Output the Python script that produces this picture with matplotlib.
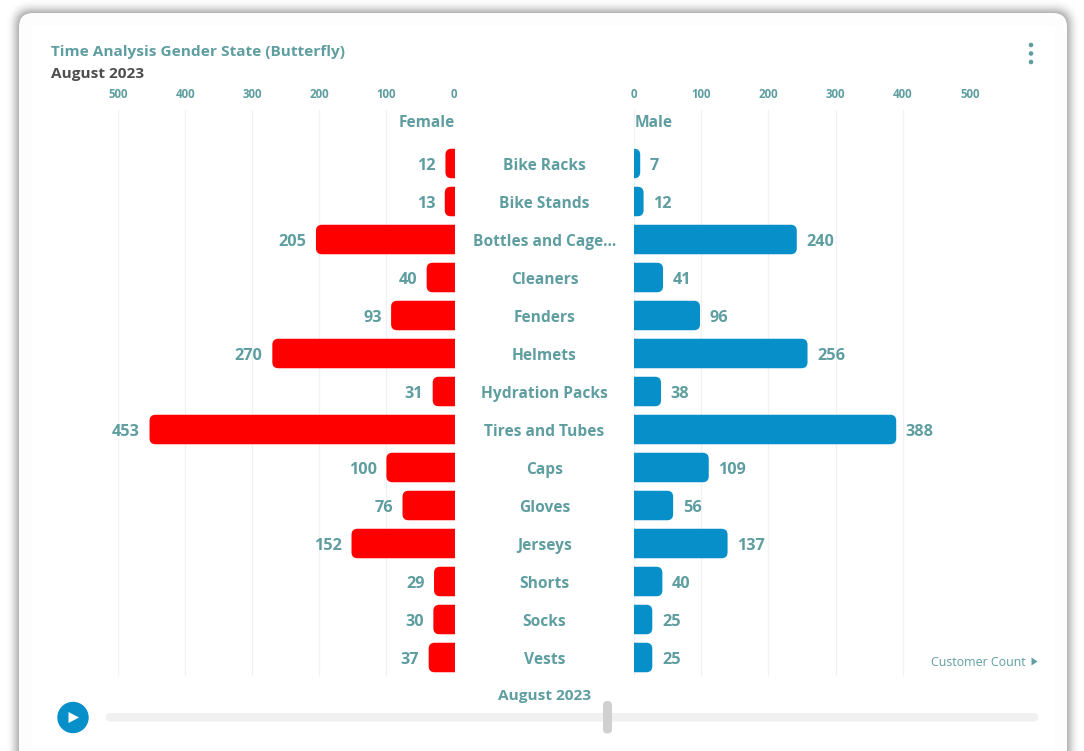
import matplotlib
matplotlib.use("Agg")
import matplotlib.pyplot as plt
from matplotlib.patches import FancyBboxPatch, PathPatch, Circle, Polygon, Rectangle
from matplotlib.path import Path

plt.rcParams['font.family'] = ['Open Sans', 'DejaVu Sans']

categories = ["Bike Racks", "Bike Stands", "Bottles and Cage...", "Cleaners", "Fenders", "Helmets",
              "Hydration Packs", "Tires and Tubes", "Caps", "Gloves", "Jerseys", "Shorts", "Socks", "Vests"]
female = [12, 13, 205, 40, 93, 270, 31, 453, 100, 76, 152, 29, 30, 37]
male = [7, 12, 240, 41, 96, 256, 38, 388, 109, 56, 137, 40, 25, 25]
ticks = [0, 100, 200, 300, 400, 500]
title = "Time Analysis Gender State (Butterfly)"
subtitle = "August 2023"

W, H = 1084, 751
TEAL = '#5F9EA0'
RED = '#FF0000'
BLUE = '#068FC9'
GRID = '#F1F1F1'

fig = plt.figure(figsize=(W / 100, H / 100), dpi=100, facecolor='white')

def px_axes(x0, y0, x1, y1, **kw):
    return fig.add_axes([x0 / W, 1 - y1 / H, (x1 - x0) / W, (y1 - y0) / H], **kw)

bg = px_axes(0, 0, W, H)
bg.set_xlim(0, W)
bg.set_ylim(H, 0)
bg.axis('off')

def card(x0, y0, x1, y1, r, **kw):
    bg.add_patch(FancyBboxPatch((x0 + r, y0 + r), x1 - x0 - 2 * r, y1 - y0 - 2 * r,
                                boxstyle=f"round,pad={r},rounding_size={r}", linewidth=0, **kw))

SHADOW = 14
for s in range(SHADOW, 0, -1):
    card(19 - s, 13 - s, 1067 + s, 790, 14 + s, facecolor='black', alpha=0.05 * (1 - s / (SHADOW + 1)) ** 1.3)
card(19, 13, 1067, 790, 14, facecolor='#FDFDFD')
bg.add_patch(Rectangle((32, 26), 1023, 800, facecolor='white', linewidth=0))

bg.text(51, 52.3, title, color=TEAL, fontsize=11.1, fontweight=700, ha='left', va='center')
bg.text(51, 74.3, subtitle, color='#4E4E4E', fontsize=11.1, fontweight=700, ha='left', va='center')
for yy in (45, 53.5, 62):
    bg.add_patch(Circle((1031, yy), 2.3, facecolor=TEAL, linewidth=0))
bg.text(454.5, 123.3, "Female", color=TEAL, fontsize=11.2, fontweight=700, ha='right', va='center')
bg.text(635, 123.3, "Male", color=TEAL, fontsize=11.2, fontweight=700, ha='left', va='center')
bg.text(931, 662, "Customer Count", color=TEAL, fontsize=8.95, ha='left', va='center')
bg.add_patch(Polygon([(1031.5, 657.5), (1037.5, 661.5), (1031.5, 665.5)], facecolor=TEAL, linewidth=0))
bg.text(544.5, 696.3, subtitle, color=TEAL, fontsize=11.1, fontweight=700, ha='center', va='center')

# slider
card(106, 713, 1038, 721.5, 4, facecolor='#F0F0F0')
card(603, 701, 612, 733.5, 4.4, facecolor='#D0D0D0')
bg.add_patch(Circle((73, 717.5), 15.7, facecolor=BLUE, linewidth=0))
bg.add_patch(Polygon([(68.5, 712), (79, 717.5), (68.5, 723)], facecolor='white', linewidth=0))

# data axes
TOP, BOTTOM = 110, 676
ROW = 38.0
CY0 = 163.5
ymin, ymax = (BOTTOM - CY0) / ROW, (TOP - CY0) / ROW
axL = px_axes(118, TOP, 453.5, BOTTOM, facecolor='none')
axR = px_axes(634, TOP, 970, BOTTOM, facecolor='none')
axL.set_xlim(500, 0)
axR.set_xlim(0, 500)

UX = 335.7 / 500
BAR_H = 29.5 / ROW

def rounded_bar(ax, i, v, color):
    """Horizontal bar rounded on its outer end; the inner end runs slightly past zero."""
    rx = 6 / UX
    ry = 6 / ROW
    is_left = ax is axL
    end = v + (0 if is_left else 1.5 / UX)
    rx = min(rx, end + 2)
    a, b = i - BAR_H / 2, i + BAR_H / 2
    start = -2.2 if is_left else 0
    verts = [(start, a), (end - rx, a), (end, a), (end, a + ry), (end, b - ry), (end, b), (end - rx, b), (start, b), (start, a)]
    codes = [Path.MOVETO, Path.LINETO, Path.CURVE3, Path.CURVE3, Path.LINETO, Path.CURVE3, Path.CURVE3,
             Path.LINETO, Path.CLOSEPOLY]
    ax.add_patch(PathPatch(Path(verts, codes), facecolor=color, linewidth=0, clip_on=False, zorder=3))

for ax, vals, color, off, ha in ((axL, female, RED, -6.9, 'right'), (axR, male, BLUE, 8.0, 'left')):
    ax.set_ylim(ymin, ymax)
    ax.set_xticks(ticks)
    ax.xaxis.tick_top()
    ax.grid(axis='x', color=GRID, linewidth=0.9)
    ax.set_axisbelow(True)
    for sp in ax.spines.values():
        sp.set_visible(False)
    ax.tick_params(axis='x', length=0, pad=6.7, labelsize=8.3, labelcolor=TEAL)
    for lab in ax.get_xticklabels():
        lab.set_fontweight(700)
    for i, v in enumerate(vals):
        rounded_bar(ax, i, v, color)
        ax.annotate(str(v), (v, i), xytext=(off, -1.7), textcoords='offset points', ha=ha, va='center',
                    color=TEAL, fontsize=11.7, fontweight=700, zorder=4)

axL.set_yticks([])
axR.set_yticks(range(len(categories)))
axR.set_yticklabels(categories)
axR.tick_params(axis='y', length=0, pad=(634 - 544.5) * 0.72, labelsize=11.2, labelcolor=TEAL)
for lab in axR.get_yticklabels():
    lab.set_ha('center')
    lab.set_fontweight(700)

fig.savefig('out.png', dpi=100)
